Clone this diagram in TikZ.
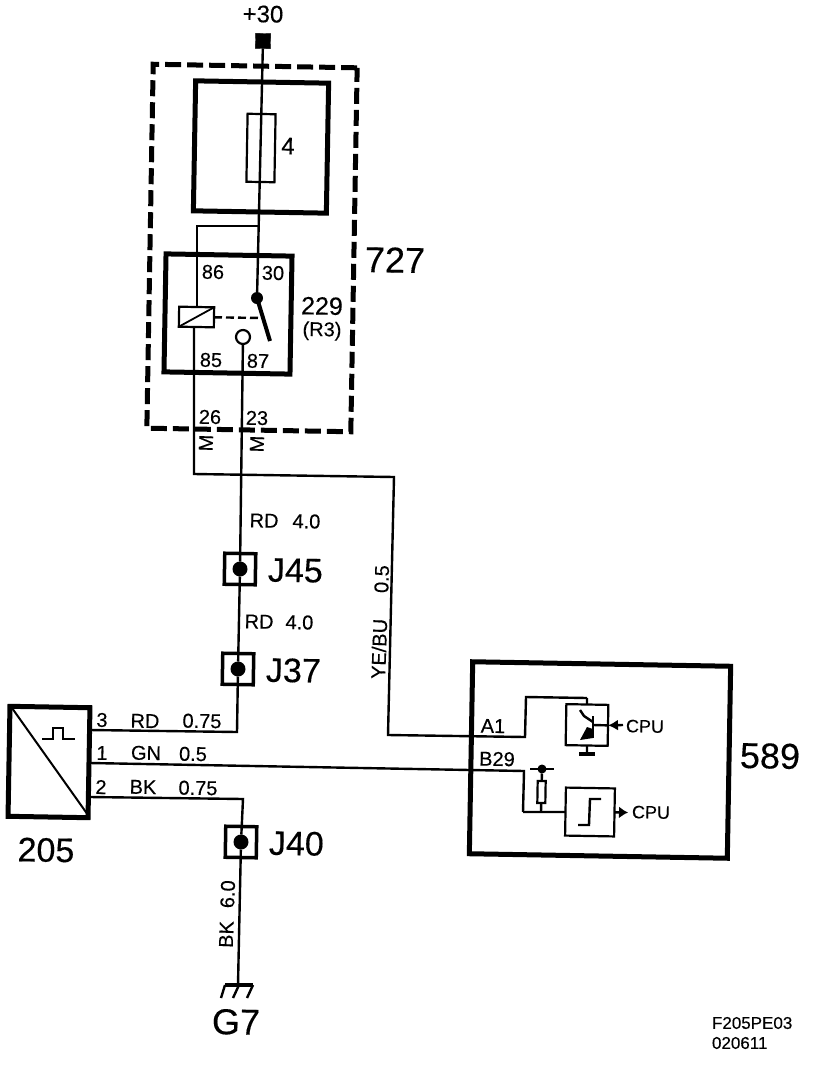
\documentclass[tikz,border=0pt]{standalone}
\usepackage{fontspec}
\setmainfont{Liberation Sans}[FakeBold=0.3]
\usetikzlibrary{arrows.meta}
\tikzset{
	MyPixels/.style={x=1pt, y=-1pt, every node/.style={rotate=-1, inner sep=0pt, outer sep=0pt}},
	ThickBox/.style={draw, line width=5pt, minimum width=#1},
	FineBox/.style={draw, line width=2.2pt, minimum width=#1},
	Wire/.style={line width=2.4pt},
	Tiny/.style={font=\fontsize{17}{17}\selectfont},
	Small/.style={font=\fontsize{20}{20}\selectfont},
	Big/.style={font=\fontsize{36}{36}\selectfont}
}

\begin{document}
\begin{tikzpicture}[MyPixels]
	\useasboundingbox (0,0) rectangle (832,1076);

	% Boxes
	\node[ThickBox=204pt, minimum height=364pt, dash pattern=on 16pt off 6pt] (relaybox) at (252,248) {};
	\node[ThickBox=133pt, minimum height=130pt] (fusebox) at (261,147) {};
	\node[ThickBox=126pt, minimum height=118pt] (relay) at (228,314) {};
	\node[ThickBox=80pt, minimum height=110pt] (sensor) at (49,762) {};
	\node[ThickBox=258pt, minimum height=192pt] (ecu) at (600,760) {};

	% Supply, fuse and relay
	\node[draw, fill, minimum size=15pt] (supply) at (263,41) {};
	\node[fill, circle, minimum size=12pt] (contact) at (257,298) {};
	\node[FineBox=28pt, minimum height=68pt] (fuse) at (261,148) {};
	\node[FineBox=35pt, minimum height=20pt] (coil) at (196.5,317) {};
	\node[draw, circle, line width=2.2pt, minimum size=14pt] (contactno) at (243,337) {};
	\draw[Wire] (supply) -- (contact);
	\coordinate (split) at (259,226);
	\coordinate (coiltop) at (197,226);
	\draw[Wire] (split) -- (coiltop) -- (coil.north -| coiltop);
	\draw[line width=1.8pt] (coil.south west) -- (coil.north east);
	\coordinate (bladeend) at (270,341);
	\draw[line width=4pt] (contact.center) -- (bladeend);
	\coordinate (bladecentre) at (262,318);
	\draw[Wire, dash pattern=on 8pt off 4pt] (coil.east) -- (bladecentre);

	% Splices
	\foreach \name/\x/\y in {J45/240/569, J37/238/669, J40/241/842}
	{
		\node[draw, line width=3.5pt, minimum size=31pt] (\name) at (\x,\y) {};
		\node[fill, circle, minimum size=15pt] (\name dot) at (\x,\y) {};
		\node[Big, font=\fontsize{34}{34}\selectfont, anchor=west] at (\x+28,\y+1) {\name};
	}

	% Wires to the splices and the sensor
	\coordinate (coilout) at (194,474);
	\coordinate (bend) at (394,477);
	\coordinate (ecuin) at (388,735);
	\coordinate (pina) at (525,737);
	\coordinate (pinaup) at (526,697);
	\coordinate (switchin) at (587,698);
	\coordinate (rdcorner) at (237,732);
	\coordinate (rdpin) at (90,730);
	\coordinate (gnpin) at (90,763);
	\coordinate (gnend) at (524,771);
	\coordinate (gndown) at (523,812);
	\coordinate (bkpin) at (90,797);
	\coordinate (bkcorner) at (243,799);
	\coordinate (earth) at (238,985);
	\coordinate (earthleft) at (225,985);
	\coordinate (earthright) at (253,985);
	\draw[Wire] (coil.south -| coilout) -- (coilout) -- (bend) -- (ecuin) -- (pina) -- (pinaup) -- (switchin);
	\draw[Wire] (contactno) -- (J45dot) -- (J37dot) -- (rdcorner) -- (rdpin);
	\draw[Wire] (gnpin) -- (gnend) -- (gndown);
	\draw[Wire] (bkpin) -- (bkcorner) -- (J40dot) -- (earth);

	% Earth
	\draw[line width=3.5pt] (earthleft) -- (earthright);
	\foreach \xa/\xb in {225/221, 239/233, 253/247}
		\draw[Wire] (\xa,985) -- (\xb,998);

	% Sensor symbol
	\draw[line width=2pt] (12,708) -- (88,815);
	\draw[line width=2pt] (42,739) -- (53,739) -- (53,728) -- (63,728) -- (63,739) -- (75,739);

	% Output stage
	\node[FineBox=42pt, minimum height=41pt] (driver) at (587,725) {};
	\draw[Wire] (switchin) -- (driver);
	\coordinate (groundbar) at (587,754);
	\draw[Wire] (driver) -- (groundbar);
	\draw[line width=3.5pt] (579,754) -- (595,754);
	\draw[line width=2.5pt] (593,716) -- (593,738);
	\draw[Wire] (593,725) -- (driver.east);
	\draw[Wire] (580,710) -- (584,716) -- (593,722);
	\fill (580,740) -- (587,727) -- (593,729) -- (593,738) -- cycle;
	\coordinate (cpuin) at (623,725);
	\draw[Wire, -{Latex[length=10pt,width=11pt]}] (cpuin) -- (driver.east);

	% Input stage
	\node[FineBox=49pt, minimum height=48pt] (trigger) at (590,812) {};
	\node[FineBox=8pt, minimum height=22pt] (pullup) at (541.5,792) {};
	\node[fill, circle, minimum size=9pt] (pulldot) at (542,769) {};
	\coordinate (pullbottom) at (541,812);
	\draw[Wire] (gndown) -- (trigger);
	\draw[Wire] (pulldot) -- (pullup);
	\draw[Wire] (pullup) -- (pullbottom);
	\draw[Wire] (530,769) -- (554,769);
	\draw[Wire] (578,825) -- (589,825) -- (590,799) -- (601,799);
	\coordinate (cpuout) at (628,812.5);
	\draw[Wire, -{Latex[length=9pt,width=12pt]}] (trigger) -- (cpuout);

	% Small labels
	\foreach \txt/\x/\y in {86/213/272, 30/273/273, 85/211/360, 87/258/361, 26/210/417, 23/257/418,
			3/102/720, RD/145/721, 0.75/202/721, 1/102/753, GN/146/753, 0.5/193/754,
			2/101/787, BK/143/787, 0.75/198/788, A1/493/726, B29/497/759}
		\node[Small] at (\x,\y) {\txt};
	\node[Small] at (285,521) {RD\hspace{14pt}4.0};
	\node[Small] at (279,622) {RD\hspace{12pt}4.0};
	\node[Small, rotate=89] at (206,443) {M};
	\node[Small, rotate=89] at (257,444) {M};
	\node[Small, rotate=89] at (380,622) {YE/BU\hspace{26pt}0.5};
	\node[Small, rotate=89] at (227,914) {BK\hspace{13pt}6.0};
	\node[Small, font=\fontsize{18}{18}\selectfont, anchor=west] at (626,726) {CPU};
	\node[Small, font=\fontsize{18}{18}\selectfont, anchor=west] at (632,812) {CPU};
	\node[Small, font=\fontsize{20}{20}\selectfont] at (322,331) {(R3)};
	\node[font=\fontsize{25}{25}\selectfont] at (322,306) {229};
	\node[font=\fontsize{24}{24}\selectfont] at (263,14) {+30};
	\node[font=\fontsize{24}{24}\selectfont] at (288,146) {4};
	\node[Tiny, anchor=west, rotate=1] at (712,1023) {F205PE03};
	\node[Tiny, anchor=west, rotate=1] at (712,1043) {020611};

	% Big labels
	\node[Big] at (395,260) {727};
	\node[Big] at (770,756) {589};
	\node[Big, font=\fontsize{34}{34}\selectfont] at (46,850) {205};
	\node[Big] at (236,1022) {G7};
\end{tikzpicture}
\end{document}
